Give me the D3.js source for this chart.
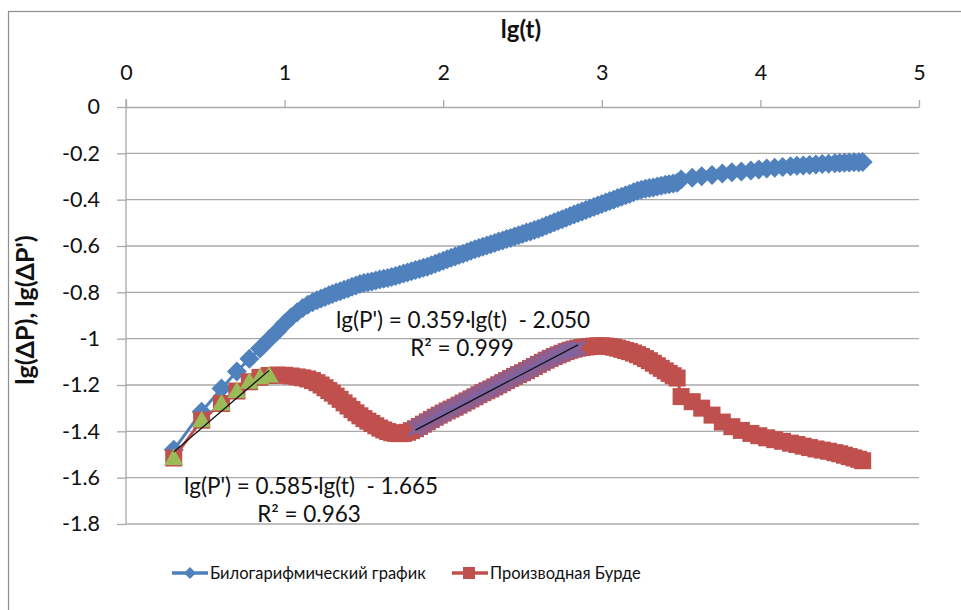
<!DOCTYPE html>
<html>
<head>
<meta charset="utf-8">
<script src="https://cdn.jsdelivr.net/npm/d3@7"></script>
<style>
  body { margin: 0; background: #fff; }
  svg { display: block; font-family: Lato, "Open Sans", sans-serif; }
</style>
</head>
<body>
<svg id="chart" width="961" height="610"></svg>
<script>
// lg(t) sample points shared by both series
const lgT = [
  0.301, 0.477, 0.602, 0.699, 0.778, 0.845, 0.903, 0.954, 1.000, 1.041,
  1.079, 1.114, 1.146, 1.176, 1.204, 1.230, 1.255, 1.279, 1.301,
  1.325, 1.350, 1.375, 1.400, 1.425, 1.450, 1.475, 1.500, 1.525, 1.550,
  1.575, 1.600, 1.625, 1.650, 1.675, 1.700, 1.725, 1.750, 1.775, 1.800,
  1.825, 1.850, 1.875, 1.900, 1.925, 1.950, 1.975, 2.000, 2.025, 2.050,
  2.075, 2.100, 2.125, 2.150, 2.175, 2.200, 2.225, 2.250, 2.275, 2.300,
  2.325, 2.350, 2.375, 2.400, 2.425, 2.450, 2.475, 2.500, 2.525, 2.550,
  2.575, 2.600, 2.625, 2.650, 2.675, 2.700, 2.725, 2.750, 2.775, 2.800,
  2.825, 2.850, 2.875, 2.900, 2.925, 2.950, 2.975, 3.000, 3.025, 3.050,
  3.075, 3.100, 3.125, 3.150, 3.175, 3.200, 3.225, 3.250, 3.275, 3.300,
  3.325, 3.350, 3.375, 3.400, 3.425, 3.450, 3.475,
  3.500, 3.570, 3.630, 3.695, 3.760, 3.820, 3.880, 3.940, 3.990, 4.040,
  4.090, 4.140, 4.190, 4.230, 4.270, 4.310, 4.350, 4.390, 4.430, 4.470,
  4.500, 4.530, 4.560, 4.590, 4.620, 4.645
];

// lg(ΔP) — bilogarithmic pressure curve
const lgDP = [
  -1.480, -1.315, -1.215, -1.142, -1.087, -1.042, -1.003, -0.968, -0.935, -0.908,
  -0.886, -0.868, -0.854, -0.843, -0.834, -0.827, -0.820, -0.813, -0.807,
  -0.801, -0.795, -0.789, -0.783, -0.776, -0.770, -0.764, -0.760, -0.756, -0.753,
  -0.749, -0.745, -0.741, -0.738, -0.734, -0.730, -0.724, -0.719, -0.714, -0.709,
  -0.704, -0.699, -0.694, -0.690, -0.683, -0.677, -0.670, -0.664, -0.657, -0.651,
  -0.645, -0.639, -0.633, -0.627, -0.620, -0.614, -0.609, -0.603, -0.598, -0.592,
  -0.587, -0.581, -0.576, -0.570, -0.565, -0.559, -0.554, -0.548, -0.542, -0.537,
  -0.531, -0.525, -0.519, -0.512, -0.505, -0.498, -0.491, -0.485, -0.478, -0.471,
  -0.464, -0.458, -0.451, -0.445, -0.438, -0.432, -0.425, -0.419, -0.412, -0.406,
  -0.400, -0.393, -0.387, -0.381, -0.375, -0.368, -0.362, -0.357, -0.353, -0.350,
  -0.347, -0.343, -0.340, -0.336, -0.333, -0.330, -0.327,
  -0.313, -0.305, -0.299, -0.293, -0.287, -0.282, -0.278, -0.274, -0.270, -0.266,
  -0.262, -0.259, -0.256, -0.254, -0.252, -0.250, -0.248, -0.246, -0.245, -0.243,
  -0.242, -0.241, -0.240, -0.239, -0.238, -0.237
];

// lg(ΔP') — Bourdet derivative
const lgDPder = [
  -1.515, -1.352, -1.280, -1.226, -1.186, -1.167, -1.159, -1.157, -1.158, -1.161,
  -1.165, -1.169, -1.174, -1.181, -1.190, -1.200, -1.212, -1.224, -1.235,
  -1.248, -1.262, -1.277, -1.291, -1.306, -1.320, -1.333, -1.345, -1.356, -1.366,
  -1.376, -1.386, -1.394, -1.401, -1.406, -1.409, -1.410, -1.409, -1.404, -1.397,
  -1.389, -1.379, -1.369, -1.359, -1.349, -1.339, -1.330, -1.321, -1.312, -1.304,
  -1.296, -1.287, -1.278, -1.269, -1.260, -1.251, -1.242, -1.233, -1.225, -1.217,
  -1.208, -1.199, -1.190, -1.181, -1.172, -1.163, -1.155, -1.147, -1.138, -1.129,
  -1.120, -1.111, -1.102, -1.093, -1.085, -1.077, -1.070, -1.063, -1.056, -1.050,
  -1.045, -1.041, -1.038, -1.036, -1.034, -1.032, -1.031, -1.031, -1.032, -1.034,
  -1.037, -1.041, -1.046, -1.051, -1.056, -1.062, -1.069, -1.077, -1.086, -1.095,
  -1.106, -1.117, -1.128, -1.139, -1.150, -1.160, -1.170,
  -1.250, -1.272, -1.300, -1.330, -1.360, -1.380, -1.396, -1.409, -1.419, -1.428,
  -1.436, -1.443, -1.451, -1.457, -1.464, -1.470, -1.476, -1.481, -1.486, -1.492,
  -1.497, -1.503, -1.509, -1.515, -1.521, -1.527
];

const xTicks = [0, 1, 2, 3, 4, 5];
const yTicks = [0, -0.2, -0.4, -0.6, -0.8, -1, -1.2, -1.4, -1.6, -1.8];

// Power-law fits of the derivative on two lg(t) intervals
const fitRanges = [[0.30, 0.91], [1.82, 2.86]];
const fitSlopes = [0.585, 0.359];
const fitIntercepts = [-1.665, -2.050];
const fitR2 = [0.963, 0.999];

const seriesNames = ["Билогарифмический график", "Производная Бурде"];
const axisTitleX = "lg(t)";
const axisTitleY = "lg(ΔP), lg(ΔP')";

const COLORS = { dp: "#4F81BD", der: "#C0504D", fitA: "#9BBB59", fitB: "#8064A2" };
const GRID = "#a9a9a9";
const INK = "#111";

const svg = d3.select("#chart");
const x = d3.scaleLinear().domain([0, 5]).range([126, 919]);
const y = d3.scaleLinear().domain([-1.8, 0]).range([524, 107]);

// chart-area frame
svg.append("rect")
  .attr("x", 8.5).attr("y", 11.5).attr("width", 1200).attr("height", 1200)
  .attr("fill", "none").attr("stroke", "#8f8f8f").attr("stroke-width", 1.2);

// horizontal gridlines
svg.append("g").selectAll("line")
  .data(yTicks.filter(d => d !== 0))
  .join("line")
  .attr("x1", x(0)).attr("x2", x(5))
  .attr("y1", d => y(d)).attr("y2", d => y(d))
  .attr("stroke", GRID).attr("stroke-width", 1.3);

const fmt = d => String(d);

// x axis along the top (y = 0)
const gx = svg.append("g")
  .attr("transform", `translate(0,${y(0)})`)
  .call(d3.axisTop(x).tickValues(xTicks).tickSizeInner(7).tickSizeOuter(0)
    .tickPadding(20).tickFormat(fmt));

// y axis
const gy = svg.append("g")
  .attr("transform", `translate(${x(0)},0)`)
  .call(d3.axisLeft(y).tickValues(yTicks).tickSizeInner(9).tickSizeOuter(0)
    .tickPadding(17).tickFormat(fmt));

[gx, gy].forEach(g => {
  g.select(".domain").attr("stroke", GRID).attr("stroke-width", 1.3);
  g.selectAll(".tick line").attr("stroke", GRID).attr("stroke-width", 1.3);
  g.selectAll(".tick text").attr("font-size", 21.5).attr("fill", INK)
    .attr("font-family", "Lato, 'Open Sans', sans-serif");
});
gy.select(".domain").attr("d", `M0,${y(0) - 8}V${y(-1.8)}`);

// axis titles
svg.append("text")
  .attr("x", 521).attr("y", 38).attr("text-anchor", "middle")
  .attr("font-size", 24).attr("font-weight", "bold").attr("fill", INK)
  .text(axisTitleX);
svg.append("text")
  .attr("transform", "translate(34,310) rotate(-90)").attr("text-anchor", "middle")
  .attr("font-size", 25).attr("font-weight", "bold").attr("fill", INK)
  .text(axisTitleY);

const pts = lgT.map((t, i) => ({ t, dp: lgDP[i], der: lgDPder[i] }));

// marker shapes
const diamond = h => `M0,${-h}L${h},0L0,${h}L${-h},0Z`;
const triangle = "M0,-9.5L9.5,7L-9.5,7Z";
const cross = "M-7,-7L7,7M-7,7L7,-7";
const SQ = 17;

const plot = svg.append("g");

// connecting lines
const lineOf = key => d3.line().x(d => x(d.t)).y(d => y(d[key]));
plot.append("path").datum(pts).attr("d", lineOf("dp"))
  .attr("fill", "none").attr("stroke", COLORS.dp).attr("stroke-width", 3);

// bilogarithmic markers
plot.append("g").selectAll("path").data(pts).join("path")
  .attr("transform", d => `translate(${x(d.t)},${y(d.dp)})`)
  .attr("d", diamond(10)).attr("fill", COLORS.dp);

plot.append("path").datum(pts).attr("d", lineOf("der"))
  .attr("fill", "none").attr("stroke", COLORS.der).attr("stroke-width", 3);

// derivative markers
plot.append("g").selectAll("rect").data(pts).join("rect")
  .attr("x", d => x(d.t) - SQ / 2).attr("y", d => y(d.der) - SQ / 2)
  .attr("width", SQ).attr("height", SQ).attr("fill", COLORS.der);

// points used in each fit
const inRange = r => pts.filter(d => d.t >= r[0] && d.t <= r[1]);
const fitA = inRange(fitRanges[0]);
const fitB = inRange(fitRanges[1]);

plot.append("g").selectAll("path").data(fitA).join("path")
  .attr("transform", d => `translate(${x(d.t)},${y(d.der)})`)
  .attr("d", triangle).attr("fill", COLORS.fitA);

plot.append("g").selectAll("path").data(fitB).join("path")
  .attr("transform", d => `translate(${x(d.t)},${y(d.der)})`)
  .attr("d", cross).attr("fill", "none").attr("stroke", COLORS.fitB)
  .attr("stroke-width", 3.4).attr("opacity", 0.9);

// trend lines
[fitA, fitB].forEach((sub, i) => {
  const [t0, t1] = d3.extent(sub, d => d.t);
  const f = t => fitSlopes[i] * t + fitIntercepts[i];
  plot.append("line")
    .attr("x1", x(t0)).attr("y1", y(f(t0)))
    .attr("x2", x(t1)).attr("y2", y(f(t1)))
    .attr("stroke", INK).attr("stroke-width", 1.2);
});

// fit equations
const eq = i => `lg(P') = ${fitSlopes[i].toFixed(3)}·lg(t)  - ${Math.abs(fitIntercepts[i]).toFixed(3)}`;
const r2 = i => `R² = ${fitR2[i].toFixed(3)}`;
const labels = svg.append("g").attr("font-size", 22.5).attr("fill", INK)
  .attr("text-anchor", "middle");
const addLabel = (cx, by, s) => labels.append("text")
  .attr("xml:space", "preserve").attr("x", cx).attr("y", by).text(s);
addLabel(463, 328, eq(1));
addLabel(462, 356, r2(1));
addLabel(311, 494, eq(0));
addLabel(309, 522, r2(0));

// legend
const legend = svg.append("g").attr("font-size", 16.5).attr("fill", INK);
const legendItems = [
  { x0: 172, color: COLORS.dp, shape: "diamond", name: seriesNames[0] },
  { x0: 452, color: COLORS.der, shape: "square", name: seriesNames[1] }
];
legendItems.forEach(it => {
  const ly = 573;
  legend.append("line").attr("x1", it.x0).attr("x2", it.x0 + 36)
    .attr("y1", ly).attr("y2", ly).attr("stroke", it.color).attr("stroke-width", 3.5);
  if (it.shape === "diamond") {
    legend.append("path").attr("transform", `translate(${it.x0 + 18},${ly})`)
      .attr("d", diamond(6)).attr("fill", it.color);
  } else {
    legend.append("rect").attr("x", it.x0 + 11).attr("y", ly - 6)
      .attr("width", 12).attr("height", 12).attr("fill", it.color);
  }
  legend.append("text").attr("x", it.x0 + 38).attr("y", ly + 6).text(it.name);
});
</script>
</body>
</html>
